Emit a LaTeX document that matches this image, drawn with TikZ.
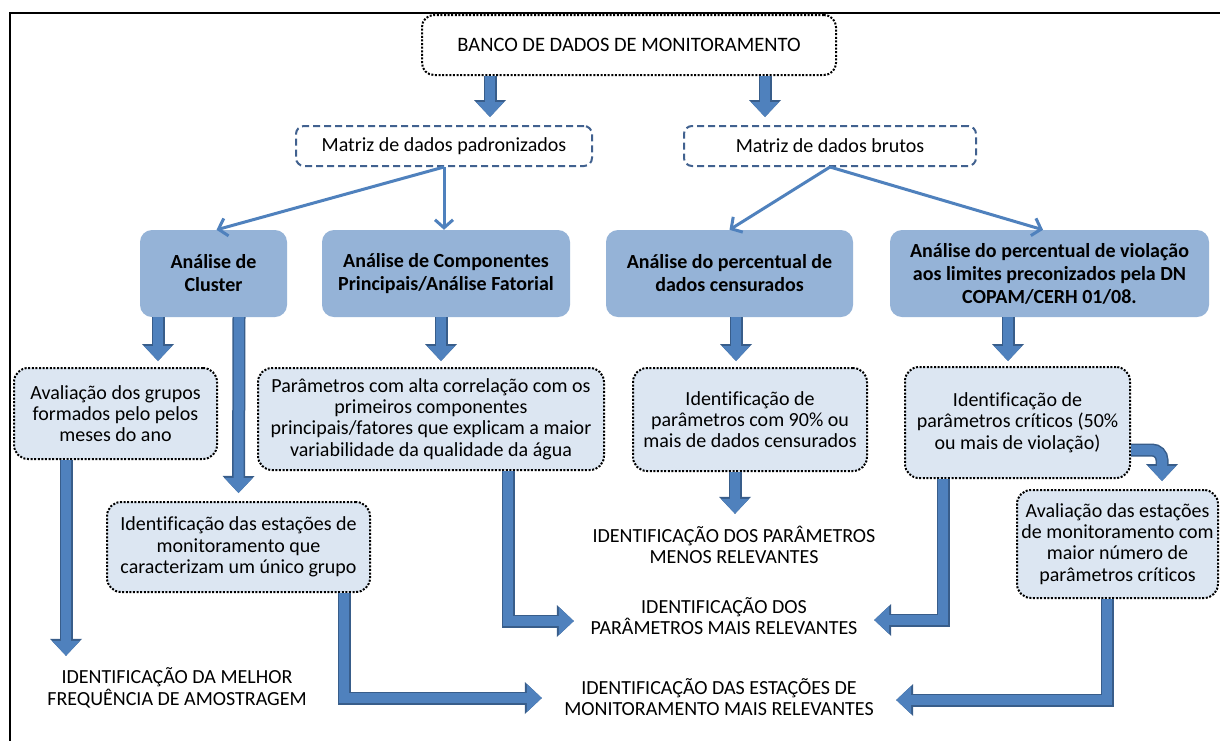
\documentclass[tikz,border=0pt]{standalone}
\usepackage{fontspec}
\setmainfont[Ligatures=NoCommon]{Carlito}
\usetikzlibrary{arrows.meta,calc}
\definecolor{bluebox}{HTML}{95B3D7}
\definecolor{lightbox}{HTML}{DCE6F2}
\definecolor{arrowfill}{HTML}{4F81BD}
\definecolor{arrowdark}{HTML}{385D8A}
\definecolor{dashcol}{HTML}{41618F}
\definecolor{thincol}{HTML}{4F81BD}
\begin{document}
\begin{tikzpicture}[x=1pt,y=-1pt,
  bluenode/.style={fill=bluebox, rounded corners=12pt, align=center, inner sep=0pt,
    font=\fontsize{20}{23}\selectfont\bfseries},
  dotnode/.style={fill=lightbox, draw=black, line width=2pt, dash pattern=on 2pt off 1.6pt,
    rounded corners=14pt, align=center, inner sep=0pt, font=\fontsize{20}{21.3}\selectfont},
  topnode/.style={fill=white, draw=black, line width=2pt, dash pattern=on 2pt off 1.6pt,
    rounded corners=12pt, align=center, inner sep=0pt, font=\fontsize{20.5}{21.3}\selectfont},
  dashnode/.style={fill=white, draw=dashcol, line width=2pt, dash pattern=on 7pt off 4pt,
    rounded corners=8pt, align=center, inner sep=0pt, font=\fontsize{20}{21.3}\selectfont},
  label/.style={align=center, inner sep=0pt, font=\fontsize{20}{21.5}\selectfont},
  fat/.style={line width=10pt, draw=arrowfill, line join=miter,
    -{Triangle[length=15pt,width=28pt,line width=0pt]},
    preaction={draw=arrowdark, line width=13pt, line join=miter,
      -{Triangle[length=17pt,width=32pt,line width=0pt]}}},
  thin/.style={draw=thincol, line width=3pt, -{Straight Barb[length=8pt,width=18pt]}}
]
\useasboundingbox (0,0) rectangle (1220,740);
\fill[white] (0,0) rectangle (1220,740);
\draw[line width=2pt] (10,745) -- (10,13) -- (1225,13);

% nodes
\node[topnode, minimum width=414pt, minimum height=60pt] (top) at (629,45) {BANCO DE DADOS DE MONITORAMENTO};
\node[dashnode, minimum width=296pt, minimum height=40pt] (mpad) at (444,146) {Matriz de dados padronizados};
\node[dashnode, minimum width=292pt, minimum height=40pt] (mbru) at (830,146) {Matriz de dados brutos};

\node[bluenode, minimum width=147pt, minimum height=87pt] (cl) at (213.5,273.5) {Análise de\\Cluster};
\node[bluenode, minimum width=248pt, minimum height=87pt] (acp) at (446,273.5) {Análise de Componentes\\Principais/Análise Fatorial};
\node[bluenode, minimum width=247pt, minimum height=87pt] (cen) at (729.5,273.5) {Análise do percentual de\\dados censurados};
\node[bluenode, minimum width=319pt, minimum height=87pt] (vio) at (1049.5,273.5) {Análise do percentual de violação\\aos limites preconizados pela DN\\COPAM/CERH 01/08.};

\node[dotnode, minimum width=203pt, minimum height=91pt] (avg) at (115.5,413.5) {Avaliação dos grupos\\formados pelo pelos\\meses do ano};
\node[dotnode, minimum width=346pt, minimum height=102pt] (par) at (431,419) {Parâmetros com alta correlação com os\\primeiros componentes\\principais/fatores que explicam a maior\\variabilidade da qualidade da água};
\node[dotnode, minimum width=234pt, minimum height=103pt] (idp) at (750,419.5) {Identificação de\\parâmetros com 90\% ou\\mais de dados censurados};
\node[dotnode, minimum width=225pt, minimum height=111pt] (crit) at (1017.5,422.5) {Identificação de\\parâmetros críticos (50\%\\ou mais de violação)};
\node[dotnode, minimum width=263pt, minimum height=90pt] (est) at (238.5,547) {Identificação das estações de\\monitoramento que\\caracterizam um único grupo};
\node[dotnode, minimum width=201pt, minimum height=108pt] (aval) at (1117.5,544) {Avaliação das estações\\de monitoramento com\\maior número de\\parâmetros críticos};

\node[label, minimum height=64pt] (freq) at (177,688) {IDENTIFICAÇÃO DA MELHOR\\FREQUÊNCIA DE AMOSTRAGEM};
\node[label, minimum height=62pt] (menos) at (734,545) {IDENTIFICAÇÃO DOS PARÂMETROS\\MENOS RELEVANTES};
\node[label, minimum width=300pt] (mais) at (724,616) {IDENTIFICAÇÃO DOS\\PARÂMETROS MAIS RELEVANTES};
\node[label, minimum width=354pt] (estac) at (719,697) {IDENTIFICAÇÃO DAS ESTAÇÕES DE\\MONITORAMENTO MAIS RELEVANTES};

% connectors
\draw[fat, shorten >=8pt] (490,0 |- top.south) -- (490,0 |- mpad.north);
\draw[fat, shorten >=8pt] (765,0 |- top.south) -- (765,0 |- mbru.north);
\draw[thin] (mpad.south) -- ([xshift=3pt]cl.north);
\draw[thin] (mpad.south) -- (mpad.south |- acp.north);
\draw[thin] (mbru.south) -- (cen.north);
\draw[thin] (mbru.south) -- (1043,0 |- vio.north);
\draw[fat, shorten >=6pt] (158,0 |- cl.south) -- (158,0 |- avg.north);
\draw[fat, shorten >=8pt] (239,0 |- cl.south) -- (est.north);
\draw[fat, shorten >=6pt] (441,0 |- acp.south) -- (441,0 |- par.north);
\draw[fat, shorten >=6pt] (736,0 |- cen.south) -- (736,0 |- idp.north);
\draw[fat, shorten >=5pt] (1008,0 |- vio.south) -- (1008,0 |- crit.north);
\draw[fat] (66,0 |- avg.south) -- (66,0 |- freq.north);
\draw[fat] (735,0 |- idp.south) -- (735,0 |- menos.north);
\draw[fat] (344,0 |- est.south) |- ([yshift=-1pt]estac.west);
\draw[fat] (508,0 |- par.south) |- ([yshift=-5pt]mais.west);
\draw[fat] (943,0 |- crit.south) |- ([yshift=-4pt]mais.east);
\draw[fat, rounded corners=10pt, shorten >=8pt] (crit.east |- 0,450) -| (1162,0 |- aval.north);
\draw[fat] (1107,0 |- aval.south) |- ([yshift=-3pt]estac.east);
\end{tikzpicture}
\end{document}
